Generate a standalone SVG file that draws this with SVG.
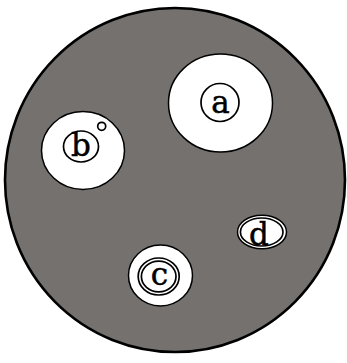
<svg xmlns="http://www.w3.org/2000/svg" width="347" height="363" viewBox="0 0 347 363">
<style>
.bg{fill:#75716f;stroke:#000;stroke-width:2.6}
.hole{fill:#fff;stroke:#000;stroke-width:1.5}
.ring{fill:none;stroke:#000;stroke-width:1.7}
.lbl{font-family:"DejaVu Serif","Liberation Serif",serif;font-size:31px;fill:#000;stroke:#000;stroke-width:0.5;text-anchor:middle}
</style>
<rect width="347" height="363" fill="#fff"/>
<ellipse id="outer" class="bg" cx="175" cy="180" rx="170" ry="172"/>
<g id="a">
<ellipse class="hole" cx="220.5" cy="103" rx="52" ry="49"/>
<circle class="ring" cx="220" cy="102.5" r="19"/>
<text class="lbl" x="220.5" y="112.5">a</text>
</g>
<g id="b">
<ellipse class="hole" cx="83" cy="150.5" rx="41.5" ry="39"/>
<ellipse class="ring" cx="81" cy="146.5" rx="17.5" ry="15.5"/>
<circle class="ring" cx="101.7" cy="126.3" r="4"/>
<text class="lbl" x="81" y="156">b</text>
</g>
<g id="c">
<ellipse class="hole" cx="160.5" cy="275.5" rx="32" ry="30.5"/>
<ellipse class="ring" cx="158.7" cy="276.5" rx="20.5" ry="18.5" stroke-width="2.2"/>
<ellipse class="ring" cx="158.7" cy="276.5" rx="17.3" ry="15.3"/>
<text class="lbl" x="159.5" y="284.5">c</text>
</g>
<g id="d">
<ellipse class="hole" cx="262" cy="232" rx="24.5" ry="16.8"/>
<ellipse class="ring" cx="261.7" cy="232" rx="21.3" ry="14"/>
<text class="lbl" x="259" y="244.5">d</text>
</g>
</svg>
